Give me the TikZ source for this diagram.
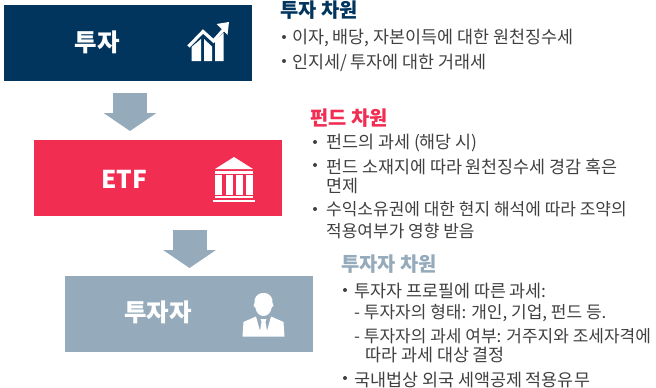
\documentclass[tikz,border=0pt]{standalone}
\usepackage{fontspec}
\setmainfont{Noto Sans CJK KR}
\usetikzlibrary{arrows.meta}
\definecolor{navyc}{RGB}{2,53,94}
\definecolor{redc}{RGB}{241,45,82}
\definecolor{greyc}{RGB}{149,171,187}
\definecolor{textc}{RGB}{64,64,64}
\begin{document}
\begin{tikzpicture}
	[x=1pt,y=-1pt,
	mybox/.style={minimum width=248pt,minimum height=76pt,inner sep=0pt,anchor=north west},
	boxlabel/.style={text=white,font=\fontsize{24.5}{24.5}\selectfont\bfseries,inner sep=0pt},
	heading/.style={anchor=west,inner sep=0pt,yshift=-0.5pt,font=\fontsize{19.8}{19.8}\selectfont\bfseries},
	line/.style={anchor=west,inner sep=0pt,yshift=-1.5pt,text=textc,font=\fontsize{17.4}{17.4}\selectfont},
	longline/.style={line,font=\fontsize{17}{17}\selectfont},
	dot/.style={circle,fill=textc,minimum size=4pt,inner sep=0pt},
	flow/.style={greyc,line width=34pt,-{Triangle[length=18pt,width=52pt]}}]
	\useasboundingbox (0,0) rectangle (656,388);
	% boxes
	\node[mybox,fill=navyc,name=invest] at (4,5) {};
	\node[mybox,fill=redc,name=etf] at (34,140) {};
	\node[mybox,fill=greyc,name=investor] at (65,276) {};
	\node[boxlabel,name=investlabel] at (97,42) {투자};
	\node[boxlabel,name=etflabel] at (124,179) {ETF};
	\node[boxlabel,name=investorlabel] at (158,312) {투자자};
	% arrows
	\coordinate (a1) at (130,93);
	\coordinate (b1) at (130,131);
	\coordinate (a2) at (189.5,230);
	\coordinate (b2) at (189.5,268);
	\draw[flow] (a1) -- (b1);
	\draw[flow] (a2) -- (b2);
	% chart icon
	\fill[white] (191.5,47) -- (201,39) -- (201,61) -- (191.5,61) -- cycle;
	\fill[white] (204,39) -- (212,46.5) -- (212,61) -- (204,61) -- cycle;
	\fill[white] (215,41) -- (223.5,33) -- (223.5,61) -- (215,61) -- cycle;
	\draw[white,line width=3.2pt] (188.5,46.5) -- (203,31.5) -- (213.5,41) -- (225,28);
	\fill[white] (229,22) -- (216.5,24) -- (227.5,35) -- cycle;
	% bank icon
	\fill[white] (234,157) -- (253,169) -- (215,169) -- cycle;
	\fill[white] (215,171) rectangle (253,173.5);
	\foreach \x in {215,226,236,246}
	{
		\fill[white] (\x,175) rectangle (\x+7,195);
	}
	\fill[white] (215,196) rectangle (253,198);
	\fill[white] (213,200) rectangle (255,201.5);
	% person icon
	\fill[white] (263.5,293) .. controls (256,293) and (254,299) .. (254.5,303)
		.. controls (253,304) and (253,307) .. (255.5,308)
		.. controls (256,312) and (259,316) .. (263.5,316)
		.. controls (268,316) and (271,312) .. (271.5,308)
		.. controls (274,307) and (274,304) .. (272.5,303)
		.. controls (273,299) and (271,293) .. (263.5,293) -- cycle;
	\fill[white] (242.5,336.5) -- (243.5,322) -- (256,316.5) -- (260,331) -- (261.5,322)
		-- (260.5,319) -- (266.5,319) -- (265.5,322) -- (267,331) -- (271,316.5)
		-- (283.5,322) -- (284.5,336.5) -- cycle;
	% investment text
	\node[heading,text=navyc,name=h1] at (280,10) {투자 차원};
	\node[line,name=t1] at (292,36) {이자, 배당, 자본이득에 대한 원천징수세};
	\node[line,name=t2] at (292,61) {인지세/ 투자에 대한 거래세};
	\node[dot,name=d1] at (284,37) {};
	\node[dot,name=d2] at (284,61) {};
	% fund text
	\node[heading,text=redc,name=h2] at (310,118) {펀드 차원};
	\node[line,name=t3] at (326,142) {펀드의 과세 (해당 시)};
	\node[line,name=t4] at (326,165) {펀드 소재지에 따라 원천징수세 경감 혹은};
	\node[line,name=t5] at (326,184) {면제};
	\node[longline,name=t6] at (326,208) {수익소유권에 대한 현지 해석에 따라 조약의};
	\node[longline,name=t7] at (326,230) {적용여부가 영향 받음};
	\node[dot,name=d3] at (315,142) {};
	\node[dot,name=d4] at (315,165) {};
	\node[dot,name=d5] at (315,209) {};
	% investor text
	\node[heading,text=greyc,name=h3] at (341,264) {투자자 차원};
	\node[line,name=t8] at (354,289) {투자자 프로필에 따른 과세:};
	\node[longline,name=t9] at (354,312) {- 투자자의 형태: 개인, 기업, 펀드 등.};
	\node[longline,name=t10] at (354,335) {- 투자자의 과세 여부: 거주지와 조세자격에};
	\node[line,name=t11] at (365,353) {따라 과세 대상 결정};
	\node[line,name=t12] at (354,378) {국내법상 외국 세액공제 적용유무};
	\node[dot,name=d6] at (345,290) {};
	\node[dot,name=d7] at (345,378) {};
\end{tikzpicture}
\end{document}
